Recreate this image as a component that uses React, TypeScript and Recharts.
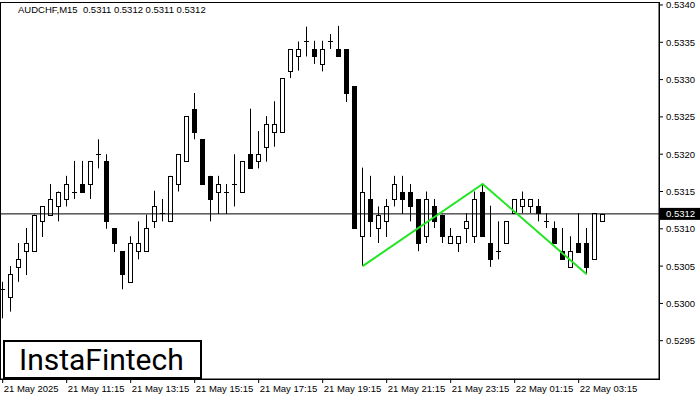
import React from 'react';
import { ComposedChart, Bar, Line, XAxis, YAxis, ReferenceLine } from 'recharts';

// ─── Data (AUDCHF, M15, 21 May 09:15 → 22 May 04:00) ─────────────────────────

const opens = [
  0.53019, 0.53009, 0.53049, 0.5307, 0.5307, 0.5311, 0.53119, 0.5313, 0.5314, 0.5315,
  0.5316, 0.5316, 0.532, 0.53191, 0.53101, 0.5307, 0.53029, 0.5307, 0.5307, 0.5311,
  0.53121, 0.5311, 0.5316, 0.53191, 0.5326, 0.5322, 0.53171, 0.5315, 0.5315, 0.5316,
  0.5315, 0.532, 0.53191, 0.5321, 0.5323, 0.5323, 0.53312, 0.53332, 0.53352, 0.53341,
  0.53321, 0.53352, 0.53341, 0.53341, 0.53291, 0.5309, 0.5314, 0.53101, 0.5311, 0.5314,
  0.5315, 0.5315, 0.5314, 0.5309, 0.5313, 0.53119, 0.53081, 0.53081, 0.53101, 0.5309,
  0.5315, 0.53081, 0.5307, 0.53081, 0.53121, 0.53131, 0.53131, 0.53131, 0.5311, 0.53101,
  0.5307, 0.53049, 0.53081, 0.53081, 0.53059, 0.5311,
];
const highs = [
  0.53029, 0.5305, 0.53081, 0.53101, 0.53119, 0.5313, 0.5316, 0.5315, 0.53171, 0.53191,
  0.53191, 0.53191, 0.5322, 0.532, 0.53101, 0.5307, 0.5309, 0.5311, 0.53119, 0.53151,
  0.5314, 0.53171, 0.532, 0.53251, 0.53282, 0.5322, 0.53171, 0.53171, 0.5316, 0.532,
  0.53191, 0.53261, 0.53231, 0.53251, 0.53271, 0.53302, 0.53341, 0.53351, 0.53371, 0.53352,
  0.53352, 0.53361, 0.53372, 0.53341, 0.53291, 0.53182, 0.53171, 0.5313, 0.5314, 0.53171,
  0.53171, 0.5316, 0.5314, 0.5315, 0.5314, 0.53119, 0.53101, 0.5309, 0.53121, 0.5315,
  0.5316, 0.53131, 0.5311, 0.5311, 0.5314, 0.5315, 0.5314, 0.5314, 0.53121, 0.5311,
  0.53101, 0.5309, 0.53121, 0.53101, 0.53121, 0.5312,
];
const lows = [
  0.5298, 0.52989, 0.53029, 0.53038, 0.5307, 0.53089, 0.53119, 0.5311, 0.5313, 0.5314,
  0.5315, 0.5314, 0.53181, 0.531, 0.53069, 0.53019, 0.53029, 0.53059, 0.5307, 0.53101,
  0.5311, 0.5311, 0.5315, 0.53191, 0.5322, 0.5316, 0.5311, 0.5312, 0.5312, 0.5313,
  0.5315, 0.53181, 0.53181, 0.5319, 0.5321, 0.5323, 0.53302, 0.53312, 0.53331, 0.53321,
  0.53311, 0.53341, 0.53331, 0.5327, 0.53101, 0.5305, 0.53089, 0.53081, 0.53089, 0.5313,
  0.5312, 0.5311, 0.5307, 0.53081, 0.53101, 0.53081, 0.53081, 0.53069, 0.53081, 0.53081,
  0.5309, 0.53049, 0.53059, 0.53081, 0.53121, 0.53121, 0.53121, 0.5311, 0.53101, 0.53081,
  0.53059, 0.53049, 0.53069, 0.53039, 0.53059, 0.5311,
];
const closes = [
  0.53019, 0.53039, 0.5306, 0.53081, 0.53119, 0.5313, 0.5314, 0.5315, 0.5316, 0.5315,
  0.5315, 0.53191, 0.532, 0.5311, 0.53081, 0.53039, 0.53081, 0.53081, 0.53101, 0.53131,
  0.53121, 0.53171, 0.532, 0.53251, 0.5323, 0.5316, 0.5314, 0.5316, 0.5315, 0.5316,
  0.53191, 0.53181, 0.532, 0.5324, 0.5324, 0.53302, 0.53341, 0.53341, 0.53352, 0.53331,
  0.53341, 0.53352, 0.53331, 0.53282, 0.53101, 0.5315, 0.5311, 0.53119, 0.5313, 0.5316,
  0.5314, 0.5313, 0.53081, 0.5314, 0.5311, 0.5309, 0.5309, 0.5309, 0.5311, 0.5314,
  0.5309, 0.53059, 0.5307, 0.5311, 0.5314, 0.5314, 0.5314, 0.53121, 0.5311, 0.53081,
  0.53059, 0.5307, 0.53069, 0.53049, 0.53121, 0.5312,
];

const timeTickBars = [0, 8, 16, 24, 32, 40, 48, 56, 64, 72];
const timeTickLabels = [
  '21 May 2025', '21 May 11:15', '21 May 13:15', '21 May 15:15', '21 May 17:15',
  '21 May 19:15', '21 May 21:15', '21 May 23:15', '22 May 01:15', '22 May 03:15',
];
const priceTicks = [0.5295, 0.53, 0.5305, 0.531, 0.5315, 0.532, 0.5325, 0.533, 0.5335, 0.534];

// double-top pattern drawn in green
const patternBars = [45, 60, 73];
const patternPrices = [0.5305, 0.5316, 0.53039];

const lastPrice = 0.5312;

const FONT = "Tahoma, 'Liberation Sans', Arial, sans-serif";

const data = opens.map((o, i) => {
  const p = patternBars.indexOf(i);
  return {
    i,
    open: o,
    high: highs[i],
    low: lows[i],
    close: closes[i],
    range: [lows[i], highs[i]],
    pattern: p >= 0 ? patternPrices[p] : null,
  };
});

// ─── Shapes ───────────────────────────────────────────────────────────────────

function Candle(props: any) {
  const { x, y, width, height, payload } = props;
  if (x == null || y == null) return null;
  const top = Math.min(y, y + height);
  const h = Math.abs(height);
  const { open, close, high, low } = payload;
  const span = high - low;
  const py = (v: number) => (span > 0 ? top + ((high - v) / span) * h : top);
  const cx = Math.floor(x + width / 2) + 0.5;
  const bTop = Math.round(py(Math.max(open, close)));
  const bBot = Math.round(py(Math.min(open, close)));
  const bull = close >= open;
  return (
    <g>
      <line x1={cx} x2={cx} y1={top} y2={top + h} stroke="#000" strokeWidth={1} />
      {bBot - bTop < 1 ? (
        <line x1={cx - 2.5} x2={cx + 2.5} y1={bTop + 0.5} y2={bTop + 0.5} stroke="#000" strokeWidth={1} />
      ) : (
        <rect
          x={cx - 2}
          y={bTop + 0.5}
          width={4}
          height={bBot - bTop}
          fill={bull ? '#fff' : '#000'}
          stroke="#000"
          strokeWidth={1}
        />
      )}
    </g>
  );
}

function TimeTick(props: any) {
  const { x, payload } = props;
  const idx = timeTickBars.indexOf(payload.value);
  return (
    <text x={x + 1} y={392} textAnchor="start" fontSize={9.5} fontFamily={FONT} fill="#000">
      {timeTickLabels[idx]}
    </text>
  );
}

function PriceTick(props: any) {
  const { x, y, payload } = props;
  return (
    <text x={x + 1} y={y} dy={3.5} textAnchor="start" fontSize={9.5} fontFamily={FONT} fill="#000">
      {payload.value.toFixed(4)}
    </text>
  );
}

function PriceTag(props: any) {
  const { viewBox } = props;
  if (!viewBox) return null;
  const x = viewBox.x + viewBox.width + 1;
  const y = viewBox.y;
  return (
    <g>
      <rect x={x} y={y - 6} width={40} height={12} fill="#000" />
      <text x={x + 6} y={y} dy={3.5} fontSize={9.5} fontFamily={FONT} fill="#fff">
        {lastPrice.toFixed(4)}
      </text>
    </g>
  );
}

// ─── App ──────────────────────────────────────────────────────────────────────

export default function App() {
  return (
    <div
      style={{
        position: 'absolute',
        left: 0,
        top: 0,
        width: 700,
        height: 400,
        background: '#fff',
        fontFamily: FONT,
      }}
    >
      <ComposedChart width={700} height={400} data={data} margin={{ top: 2, right: 0, bottom: 0, left: 1 }}>
        <XAxis
          dataKey="i"
          type="number"
          domain={[-0.21, 82.04]}
          allowDataOverflow
          ticks={timeTickBars}
          interval={0}
          tick={<TimeTick />}
          tickSize={4}
          height={21}
          stroke="#000"
          axisLine={{ stroke: '#000' }}
          tickLine={{ stroke: '#000' }}
        />
        <YAxis
          orientation="right"
          type="number"
          domain={[0.528987, 0.53404]}
          allowDataOverflow
          ticks={priceTicks}
          interval={0}
          tick={<PriceTick />}
          tickSize={4}
          width={41}
          axisLine={{ stroke: '#000' }}
          tickLine={{ stroke: '#000' }}
        />
        <ReferenceLine y={lastPrice} stroke="#000" strokeWidth={1} label={<PriceTag />} />
        <Bar dataKey="range" barSize={5} shape={<Candle />} isAnimationActive={false} />
        <Line
          dataKey="pattern"
          connectNulls
          stroke="#22e622"
          strokeWidth={2}
          dot={false}
          activeDot={false}
          isAnimationActive={false}
        />
      </ComposedChart>

      {/* plot frame */}
      <div
        style={{
          position: 'absolute',
          left: 0,
          top: 2,
          width: 660,
          height: 378,
          border: '1px solid #000',
          boxSizing: 'border-box',
          pointerEvents: 'none',
        }}
      />

      <div style={{ position: 'absolute', left: 18, top: 4, fontSize: 9.5, lineHeight: '12px', whiteSpace: 'pre' }}>
        {'AUDCHF,M15  0.5311 0.5312 0.5311 0.5312'}
      </div>

      <div
        style={{
          position: 'absolute',
          left: 3,
          top: 340,
          width: 199,
          height: 39,
          border: '2px solid #000',
          boxSizing: 'border-box',
          background: '#fff',
          fontFamily: "Roboto, 'Open Sans', sans-serif",
          fontWeight: 400,
          fontSize: 30,
          lineHeight: '35px',
          paddingLeft: 14,
          color: '#000',
        }}
      >
        InstaFintech
      </div>
    </div>
  );
}
